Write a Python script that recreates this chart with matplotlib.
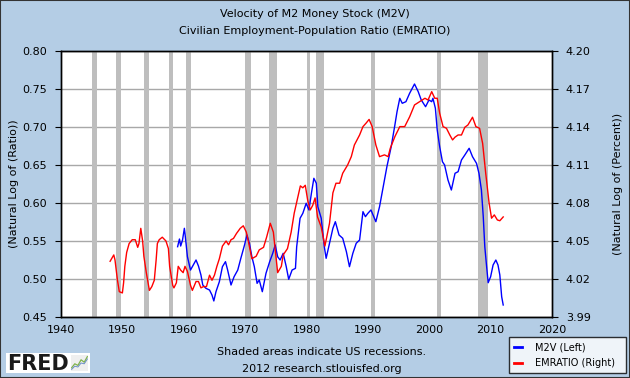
import matplotlib
matplotlib.use("Agg")
import matplotlib.pyplot as plt
from matplotlib.lines import Line2D
from matplotlib.patches import Rectangle

# ---------------- data ----------------
m2v_years = [1959.0, 1959.3, 1959.5, 1959.8, 1960.1, 1960.2, 1960.6, 1961.1, 1961.4, 1962.0,
             1962.4, 1962.8, 1963.1, 1963.6, 1964.2, 1964.6, 1964.9, 1965.25, 1965.8, 1966.3,
             1966.8, 1967.15, 1967.7, 1968.2, 1968.8, 1969.3, 1969.9, 1970.3, 1970.7, 1971.1,
             1971.5, 1971.95, 1972.3, 1972.8, 1973.4, 1974.0, 1974.5, 1974.9, 1975.3, 1975.7,
             1976.2, 1976.7, 1977.1, 1977.65, 1978.2, 1978.4, 1978.95, 1979.4, 1979.95, 1980.4,
             1980.8, 1981.2, 1981.6, 1981.85, 1982.4, 1982.9, 1983.2, 1983.75, 1984.3, 1984.7,
             1985.3, 1985.9, 1986.5, 1987.0, 1987.55, 1988.1, 1988.65, 1989.2, 1989.6, 1990.0,
             1990.5, 1991.3, 1991.9, 1992.5, 1993.1, 1993.8, 1994.4, 1994.75, 1995.2, 1995.6,
             1996.2, 1996.8, 1997.6, 1998.2, 1998.7, 1999.4, 1999.95, 2000.4, 2000.6, 2001.0,
             2001.3, 2001.7, 2002.15, 2002.5, 2003.05, 2003.6, 2004.2, 2004.7, 2005.25, 2005.8,
             2006.5, 2007.05, 2007.7, 2008.1, 2008.5, 2008.8, 2009.05, 2009.35, 2009.6, 2010.0,
             2010.4, 2010.85, 2011.2, 2011.5, 2011.8, 2012.05]
m2v_values = [0.5425, 0.5526, 0.5434, 0.5513, 0.5667, 0.5600, 0.5293, 0.5118, 0.5162, 0.5250,
              0.5170, 0.5053, 0.4921, 0.4878, 0.4855, 0.4789, 0.4711, 0.4833, 0.4964, 0.5162,
              0.5228, 0.5118, 0.4921, 0.5030, 0.5118, 0.5272, 0.5447, 0.5579, 0.5470, 0.5293,
              0.5162, 0.4943, 0.4987, 0.4833, 0.5075, 0.5228, 0.5338, 0.5447, 0.5293, 0.5250,
              0.5338, 0.5162, 0.4996, 0.5118, 0.5140, 0.5425, 0.5799, 0.5864, 0.5996, 0.5908,
              0.6128, 0.6325, 0.6259, 0.5951, 0.5799, 0.5425, 0.5272, 0.5470, 0.5667, 0.5754,
              0.5579, 0.5536, 0.5359, 0.5162, 0.5338, 0.5470, 0.5513, 0.5886, 0.5820, 0.5864,
              0.5908, 0.5754, 0.5951, 0.6214, 0.6478, 0.6741, 0.7026, 0.7201, 0.7378, 0.7312,
              0.7333, 0.7443, 0.7566, 0.7465, 0.7355, 0.7267, 0.7355, 0.7333, 0.7378, 0.7246,
              0.6960, 0.6741, 0.6543, 0.6500, 0.6303, 0.6171, 0.6391, 0.6412, 0.6566, 0.6632,
              0.6720, 0.6609, 0.6522, 0.6391, 0.6171, 0.5820, 0.5425, 0.5162, 0.4951, 0.5030,
              0.5184, 0.5250, 0.5184, 0.5053, 0.4767, 0.4658]

emr_years = [1948.0, 1948.6, 1948.8, 1949.2, 1949.5, 1950.0, 1950.2, 1950.4, 1950.7, 1951.1,
             1951.6, 1952.1, 1952.5, 1952.7, 1953.0, 1953.3, 1953.5, 1953.9, 1954.4, 1954.8,
             1955.2, 1955.5, 1955.7, 1956.0, 1956.5, 1957.1, 1957.5, 1957.7, 1958.2, 1958.4,
             1958.8, 1959.1, 1959.5, 1959.9, 1960.2, 1960.6, 1961.1, 1961.4, 1962.0, 1962.4,
             1962.8, 1963.2, 1963.7, 1964.2, 1964.6, 1965.0, 1965.4, 1965.8, 1966.3, 1966.9,
             1967.3, 1967.7, 1968.1, 1968.6, 1969.2, 1969.7, 1970.2, 1970.6, 1971.1, 1971.8,
             1972.3, 1973.0, 1973.5, 1974.1, 1974.6, 1974.9, 1975.3, 1975.9, 1976.2, 1976.9,
             1977.5, 1978.0, 1978.6, 1979.0, 1979.4, 1979.8, 1980.2, 1980.6, 1981.0, 1981.4,
             1981.8, 1982.4, 1983.0, 1983.75, 1984.3, 1984.8, 1985.4, 1985.9, 1986.7, 1987.3,
             1987.8, 1988.65, 1989.2, 1989.7, 1990.2, 1990.7, 1991.3, 1991.9, 1992.7, 1993.3,
             1993.65, 1994.4, 1995.2, 1996.0, 1996.8, 1997.6, 1998.45, 1999.3, 1999.8, 2000.4,
             2000.9, 2001.3, 2001.7, 2002.25, 2002.8, 2003.35, 2003.8, 2004.2, 2004.7, 2005.25,
             2005.8, 2006.3, 2007.05, 2007.6, 2008.2, 2008.7, 2009.2, 2009.75, 2010.15, 2010.6,
             2011.1, 2011.5, 2012.05]
emr_values = [4.034, 4.039, 4.035, 4.019, 4.010, 4.009, 4.017, 4.030, 4.041, 4.048,
              4.051, 4.051, 4.045, 4.048, 4.060, 4.050, 4.038, 4.025, 4.011, 4.014,
              4.019, 4.035, 4.048, 4.051, 4.053, 4.050, 4.044, 4.030, 4.015, 4.013,
              4.017, 4.030, 4.027, 4.025, 4.030, 4.026, 4.015, 4.011, 4.018, 4.018,
              4.013, 4.014, 4.014, 4.023, 4.019, 4.023, 4.030, 4.036, 4.046, 4.050,
              4.047, 4.051, 4.052, 4.056, 4.060, 4.062, 4.057, 4.048, 4.036, 4.038,
              4.043, 4.045, 4.053, 4.064, 4.057, 4.043, 4.025, 4.030, 4.039, 4.044,
              4.057, 4.072, 4.085, 4.0935, 4.092, 4.094, 4.082, 4.0745, 4.078, 4.084,
              4.069, 4.061, 4.046, 4.064, 4.088, 4.0956, 4.0956, 4.1035, 4.110, 4.1166,
              4.1258, 4.1337, 4.1403, 4.143, 4.146, 4.1403, 4.1258, 4.1166, 4.118, 4.1166,
              4.1232, 4.1324, 4.1403, 4.1403, 4.148, 4.1574, 4.160, 4.1627, 4.1613, 4.1679,
              4.1627, 4.1627, 4.1508, 4.1403, 4.139, 4.1337, 4.1298, 4.132, 4.1337, 4.1337,
              4.1398, 4.1416, 4.1477, 4.1403, 4.139, 4.127, 4.1035, 4.080, 4.068, 4.0706,
              4.0666, 4.066, 4.069]

recession_starts = [1945.1, 1948.9, 1953.5, 1957.6, 1960.3, 1969.9, 1973.9, 1980.0, 1981.5, 1990.5, 2001.2, 2007.9]
recession_ends   = [1945.8, 1949.8, 1954.4, 1958.3, 1961.1, 1970.9, 1975.2, 1980.5, 1982.9, 1991.2, 2001.9, 2009.5]

x_ticks = [1940, 1950, 1960, 1970, 1980, 1990, 2000, 2010, 2020]
left_ticks = [0.45, 0.50, 0.55, 0.60, 0.65, 0.70, 0.75, 0.80]
right_ticks = [3.99, 4.02, 4.05, 4.08, 4.11, 4.14, 4.17, 4.20]

title_lines = ["Velocity of M2 Money Stock (M2V)", "Civilian Employment-Population Ratio (EMRATIO)"]

# logo icon (decorative) values
logo_green = [0.2, 0.45, 0.35, 0.7, 0.55, 0.9]
logo_blue = [0.1, 0.3, 0.25, 0.5, 0.45, 0.75]

# ---------------- styling ----------------
BG = "#B4CDE5"
FS = 8
plt.rcParams["font.family"] = ["DejaVu Sans"]

fig = plt.figure(figsize=(6.3, 3.78), dpi=100, facecolor=BG)
ax = fig.add_axes([61 / 630, 1 - 317 / 378, (552 - 61) / 630, (317 - 51) / 378])
ax.set_facecolor("white")
ax2 = ax.twinx()

for s, e in zip(recession_starts, recession_ends):
    ax.axvspan(s, e, color="#BEBEBE", lw=0, zorder=1.5)

ax.plot(m2v_years, m2v_values, color="#0000FF", lw=1.0, zorder=3)
ax2.plot(emr_years, emr_values, color="#FF0000", lw=1.0, zorder=3)

ax.set_xlim(1940, 2020)
ax.set_ylim(0.45, 0.80)
ax2.set_ylim(3.99, 4.20)
ax.set_xticks(x_ticks)
ax.set_xticklabels([str(t) for t in x_ticks], fontsize=FS)
ax.set_yticks(left_ticks)
ax.set_yticklabels([f"{t:.2f}" for t in left_ticks], fontsize=FS)
ax2.set_yticks(right_ticks)
ax2.set_yticklabels([f"{t:.2f}" for t in right_ticks], fontsize=FS)

ax.yaxis.grid(True, color="#A8A8A8", lw=1.0, zorder=1)
ax.set_axisbelow(True)
ax.tick_params(axis="x", length=0, pad=6)
ax.tick_params(axis="y", length=4, width=0.8, pad=6)
ax2.tick_params(axis="y", length=4, width=0.8, pad=6)

for a in (ax, ax2):
    for sp in a.spines.values():
        sp.set_color("black")
        sp.set_linewidth(1.0)

fig.text(14 / 630, 1 - 184 / 378, "(Natural Log of (Ratio))", rotation=90,
         ha="center", va="center", fontsize=FS)
fig.text(618 / 630, 1 - 184 / 378, "(Natural Log of (Percent))", rotation=90,
         ha="center", va="center", fontsize=FS)

fig.text(0.5, 1 - 14 / 378, title_lines[0], ha="center", va="center", fontsize=FS)
fig.text(0.5, 1 - 31 / 378, title_lines[1], ha="center", va="center", fontsize=FS)

fig.text(322 / 630, 1 - 352 / 378, "Shaded areas indicate US recessions.", ha="center", va="center", fontsize=FS)
fig.text(322 / 630, 1 - 369 / 378, "2012 research.stlouisfed.org", ha="center", va="center", fontsize=FS)

# FRED logo
fig.patches.append(Rectangle((6 / 630, 1 - 373 / 378), 84 / 630, 20 / 378,
                             transform=fig.transFigure, facecolor="white", edgecolor="none",
                             zorder=0.5))
fig.text(7 / 630, 1 - 363.5 / 378, "FRED", ha="left", va="center", fontsize=15,
         fontweight="heavy", color="#1a1a1a")
icon = fig.add_axes([71 / 630, 1 - 371 / 378, 17 / 630, 16 / 378], zorder=2)
icon.set_facecolor("#EFEFEF")
icon.plot(range(len(logo_green)), logo_green, color="#7FB24C", lw=0.9)
icon.plot(range(len(logo_blue)), logo_blue, color="#6C8FC8", lw=0.7)
icon.set_xlim(-0.2, len(logo_green) - 0.8)
icon.set_ylim(0, 1)
icon.set_xticks([])
icon.set_yticks([])
for sp in icon.spines.values():
    sp.set_visible(False)

# legend
handles = [Line2D([], [], color="#0000FF", lw=2), Line2D([], [], color="#FF0000", lw=2)]
leg = fig.legend(handles, ["M2V (Left)", "EMRATIO (Right)"], loc="lower left",
                 bbox_to_anchor=(509 / 630, 1 - 373 / 378, 117 / 630, 33 / 378),
                 mode="expand", fontsize=7, frameon=True, fancybox=False,
                 handlelength=0.8, handletextpad=1.4, borderpad=0.5, labelspacing=0.6,
                 borderaxespad=0)
leg.get_frame().set_edgecolor("black")
leg.get_frame().set_linewidth(1.0)

# outer border
fig.patches.append(Rectangle((0, 0), 1, 1, transform=fig.transFigure, fill=False,
                             edgecolor="#333333", lw=1.5, zorder=5))

fig.savefig("out.png", dpi=100, facecolor=BG)
